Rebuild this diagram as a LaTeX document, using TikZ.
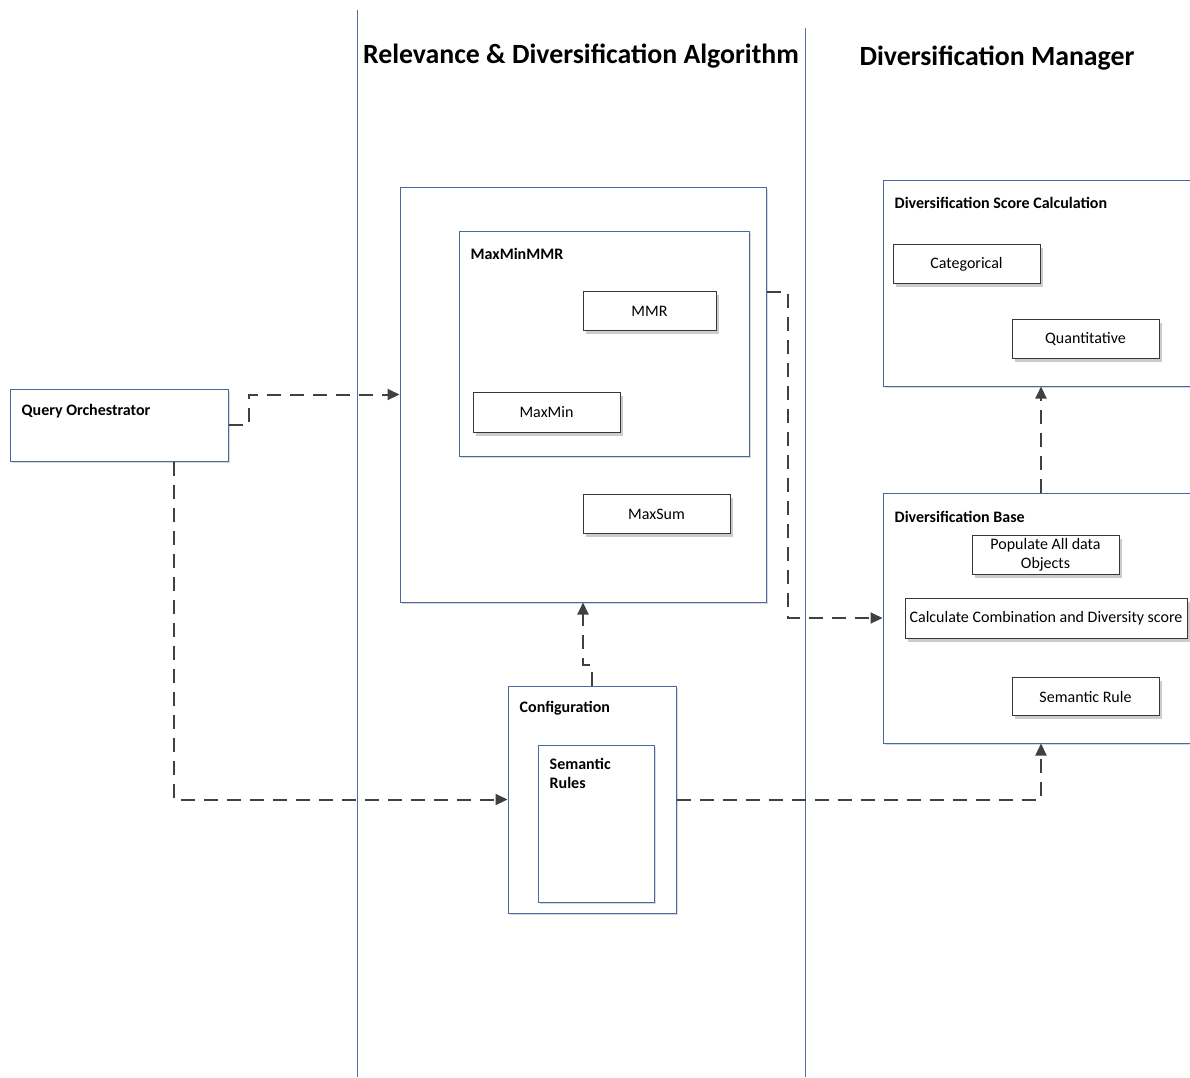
\documentclass[tikz,border=0pt]{standalone}
\usepackage{fontspec}
\setmainfont{Carlito}
\usetikzlibrary{arrows.meta,shadows}
\definecolor{frameblue}{RGB}{70,106,160}
\definecolor{laneblue}{RGB}{88,110,155}
\definecolor{conncol}{RGB}{64,64,64}
\definecolor{itemcol}{RGB}{55,55,55}
\tikzset{
  group/.style={draw=frameblue, line width=1pt, fill=white, inner sep=0pt,
    drop shadow={shadow xshift=2pt, shadow yshift=-2pt, fill=black!15, opacity=1}},
  item/.style={draw=itemcol, line width=0.9pt, fill=white, inner sep=0pt,
    font=\fontsize{16}{18}\selectfont, align=center,
    drop shadow={shadow xshift=3pt, shadow yshift=-3pt, fill=black!20, opacity=1}},
  grouptitle/.style={anchor=west, inner sep=0pt, font=\fontsize{16}{19}\selectfont\bfseries},
  lanetitle/.style={inner sep=0pt, font=\fontsize{27.8}{32}\selectfont\bfseries},
  lane/.style={draw=laneblue, line width=1pt},
  conn/.style={draw=conncol, line width=2pt, dash pattern=on 14pt off 9pt,
    -{Triangle[length=12pt, width=11pt]}},
}
\begin{document}
\begin{tikzpicture}[x=1pt, y=-1pt]
\useasboundingbox (0,0) rectangle (1190,1077);
\fill[white] (0,0) rectangle (1190,1077);

% swim lane separators and headings
\draw[lane] (357,10) -- (357,1077);
\draw[lane] (805,28) -- (805,1077);
\node[lanetitle] (lanealg) at (581,56) {Relevance \& Diversification Algorithm};
\node[lanetitle] (lanemgr) at (997,58) {Diversification Manager};

% query orchestrator
\node[group, minimum width=218pt, minimum height=72pt] (qo) at (119,425) {};
\node[grouptitle] (qot) at ([shift={(12,23)}]qo.north west) {Query Orchestrator};

% relevance and diversification algorithm
\node[group, minimum width=366pt, minimum height=415pt] (alg) at (583,394.5) {};
\node[group, minimum width=290pt, minimum height=225pt] (mmmr) at (604,343.5) {};
\node[grouptitle] (mmmrt) at ([shift={(12,23)}]mmmr.north west) {MaxMinMMR};
\node[item, minimum width=133pt, minimum height=39pt] (mmr) at (649.5,311) {MMR};
\node[item, minimum width=147pt, minimum height=40pt] (maxmin) at (546.5,412.5) {MaxMin};
\node[item, minimum width=147pt, minimum height=39pt] (maxsum) at (656.5,514) {MaxSum};

% configuration
\node[group, minimum width=168pt, minimum height=227pt] (conf) at (592,799.5) {};
\node[grouptitle] (conft) at ([shift={(12,23)}]conf.north west) {Configuration};
\node[group, minimum width=116pt, minimum height=157pt] (semr) at (596,823.5) {};
\node[grouptitle, anchor=north west, align=left] (semrt) at ([shift={(12,14)}]semr.north west) {Semantic\\Rules};

% diversification manager
\node[group, minimum width=316pt, minimum height=206pt] (dsc) at (1041,283) {};
\node[grouptitle] (dsct) at ([shift={(12,23)}]dsc.north west) {Diversification Score Calculation};
\node[item, minimum width=147pt, minimum height=39pt] (cat) at (966.5,264) {Categorical};
\node[item, minimum width=147pt, minimum height=39pt] (quant) at (1085.5,339) {Quantitative};

\node[group, minimum width=316pt, minimum height=250pt] (dbase) at (1041,618) {};
\node[grouptitle] (dbaset) at ([shift={(12,24)}]dbase.north west) {Diversification Base};
\node[item, minimum width=147pt, minimum height=39pt, font=\fontsize{16}{19}\selectfont] (pop) at (1045.5,555) {Populate All data\\Objects};
\node[item, minimum width=282pt, minimum height=40pt] (calc) at (1046,618.5) {Calculate Combination and Diversity score};
\node[item, minimum width=147pt, minimum height=38pt] (srule) at (1085.5,696.5) {Semantic Rule};

% connectors
\draw[conn] (qo.east) -- ++(20,0) |- (alg.west);
\draw[conn] ([xshift=55pt]qo.south) |- (conf.west);
\draw[conn] (conf.north) -- ++(0,-21) -| (alg.south);
\draw[conn] (conf.east) -| (dbase.south);
\draw[conn] ([yshift=102.5pt]alg.east) -- ++(21,0) |- (dbase.west);
\draw[conn] (dbase.north) -- (dsc.south);
\end{tikzpicture}
\end{document}
